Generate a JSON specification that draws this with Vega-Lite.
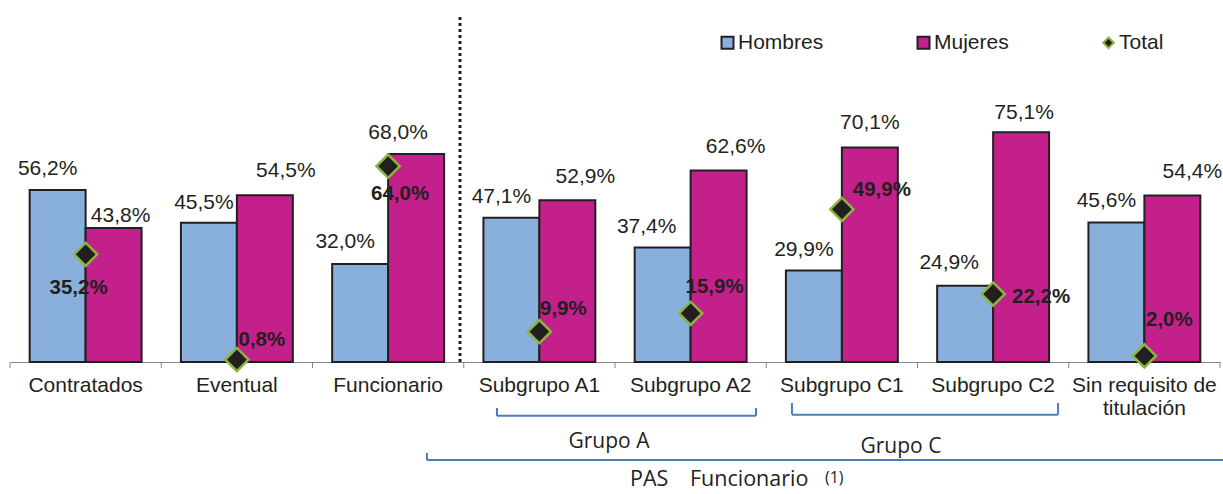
{
  "$schema": "https://vega.github.io/schema/vega-lite/v6.json",
  "width": 1210,
  "height": 306,
  "autosize": {"type": "none"},
  "padding": {"left": 10, "top": 56, "right": 3, "bottom": 132},
  "config": {"view": {"stroke": null}, "font": "Liberation Sans"},
  "data": {"values": [
    {"cat": "Contratados", "serie": "Hombres", "value": 56.2},
    {"cat": "Contratados", "serie": "Mujeres", "value": 43.8},
    {"cat": "Contratados", "serie": "Total", "value": 35.2},
    {"cat": "Eventual", "serie": "Hombres", "value": 45.5},
    {"cat": "Eventual", "serie": "Mujeres", "value": 54.5},
    {"cat": "Eventual", "serie": "Total", "value": 0.8},
    {"cat": "Funcionario", "serie": "Hombres", "value": 32.0},
    {"cat": "Funcionario", "serie": "Mujeres", "value": 68.0},
    {"cat": "Funcionario", "serie": "Total", "value": 64.0},
    {"cat": "Subgrupo A1", "serie": "Hombres", "value": 47.1},
    {"cat": "Subgrupo A1", "serie": "Mujeres", "value": 52.9},
    {"cat": "Subgrupo A1", "serie": "Total", "value": 9.9},
    {"cat": "Subgrupo A2", "serie": "Hombres", "value": 37.4},
    {"cat": "Subgrupo A2", "serie": "Mujeres", "value": 62.6},
    {"cat": "Subgrupo A2", "serie": "Total", "value": 15.9},
    {"cat": "Subgrupo C1", "serie": "Hombres", "value": 29.9},
    {"cat": "Subgrupo C1", "serie": "Mujeres", "value": 70.1},
    {"cat": "Subgrupo C1", "serie": "Total", "value": 49.9},
    {"cat": "Subgrupo C2", "serie": "Hombres", "value": 24.9},
    {"cat": "Subgrupo C2", "serie": "Mujeres", "value": 75.1},
    {"cat": "Subgrupo C2", "serie": "Total", "value": 22.2},
    {"cat": "Sin requisito de titulación", "serie": "Hombres", "value": 45.6},
    {"cat": "Sin requisito de titulación", "serie": "Mujeres", "value": 54.4},
    {"cat": "Sin requisito de titulación", "serie": "Total", "value": 2.0}
  ]},
  "transform": [{"calculate": "replace(format(datum.value, '.1f'), '.', ',') + '%'", "as": "label"}],
  "layer": [
    {
      "transform": [{"filter": "datum.serie !== 'Total'"}],
      "mark": {"type": "bar", "stroke": "#231F20", "strokeWidth": 2},
      "encoding": {
        "x": {"field": "cat", "type": "nominal",
          "scale": {"domain": ["Contratados", "Eventual", "Funcionario", "Subgrupo A1", "Subgrupo A2", "Subgrupo C1", "Subgrupo C2", "Sin requisito de titulación"], "paddingInner": 0.26, "paddingOuter": 0.13},
          "axis": {"title": null, "ticks": false, "grid": false, "domainColor": "#868686", "domainWidth": 1, "labelFontSize": 21, "labelColor": "#231F20", "labelPadding": 12, "labelAngle": 0, "labelLineHeight": 23, "labelLimit": 300, "labelFont": "Liberation Sans",
            "labelExpr": "datum.value === 'Sin requisito de titulación' ? ['Sin requisito de', 'titulación'] : datum.value"}},
        "xOffset": {"field": "serie", "type": "nominal", "scale": {"domain": ["Hombres", "Mujeres"], "paddingInner": 0, "paddingOuter": 0}},
        "y": {"field": "value", "type": "quantitative", "scale": {"domain": [0, 100], "nice": false}, "axis": null},
        "color": {"field": "serie", "type": "nominal",
          "scale": {"domain": ["Hombres", "Mujeres", "Total"], "range": ["#89AFDC", "#C4208C", "#231F20"]},
          "legend": {"orient": "none", "legendX": 707, "legendY": -24, "direction": "horizontal", "title": null,
            "labelFont": "Liberation Sans", "labelFontSize": 21, "labelColor": "#231F20", "labelOffset": 0,
            "symbolSize": 144, "columnPadding": 89, "symbolType": "square", "symbolStrokeWidth": 2, "symbolStrokeColor": "#231F20", "symbolOpacity": 1,
            "encode": {"symbols": {"update": {
              "shape": {"signal": "datum.value === 'Total' ? 'diamond' : 'square'"},
              "stroke": {"signal": "datum.value === 'Total' ? '#8DB43E' : '#231F20'"},
              "size": {"signal": "datum.value === 'Total' ? 110 : 144"}}}}}}
      }
    },
    {
      "transform": [{"filter": "datum.serie === 'Hombres'"}],
      "mark": {"type": "rule", "color": "#868686", "strokeWidth": 1},
      "encoding": {
        "x": {"field": "cat", "type": "nominal", "bandPosition": -0.1756},
        "y": {"datum": 0, "type": "quantitative", "axis": null},
        "y2": {"datum": -1.96}
      }
    },
    {
      "data": {"values": [{}]},
      "mark": {"type": "rule", "color": "#868686", "strokeWidth": 1},
      "encoding": {
        "x": {"datum": "Sin requisito de titulación", "type": "nominal", "bandPosition": 1.1756},
        "y": {"datum": 0, "type": "quantitative", "axis": null},
        "y2": {"datum": -1.96}
      }
    },
    {
      "transform": [{"filter": "datum.serie === 'Total'"}],
      "mark": {"type": "point", "shape": "diamond", "size": 540, "filled": true, "fill": "#231F20", "stroke": "#8DB43E", "strokeWidth": 2.5, "opacity": 1},
      "encoding": {
        "x": {"field": "cat", "type": "nominal"},
        "y": {"field": "value", "type": "quantitative", "axis": null}
      }
    },
    {
      "transform": [{"filter": "datum.serie === 'Hombres'"}],
      "mark": {"type": "text", "fontSize": 21, "color": "#231F20", "align": "center", "baseline": "middle",
        "dx": {"expr": "({'Contratados': -10, 'Eventual': -5, 'Funcionario': -15, 'Subgrupo A1': -10, 'Subgrupo A2': -16, 'Subgrupo C1': -10, 'Subgrupo C2': -16, 'Sin requisito de titulación': -10})[datum.cat]"},
        "dy": {"expr": "({'Contratados': -21, 'Eventual': -20, 'Funcionario': -22, 'Subgrupo A1': -21, 'Subgrupo A2': -21, 'Subgrupo C1': -21, 'Subgrupo C2': -23, 'Sin requisito de titulación': -21})[datum.cat]"}},
      "encoding": {
        "x": {"field": "cat", "type": "nominal"},
        "xOffset": {"field": "serie", "type": "nominal"},
        "y": {"field": "value", "type": "quantitative", "axis": null},
        "text": {"field": "label"}
      }
    },
    {
      "transform": [{"filter": "datum.serie === 'Mujeres'"}],
      "mark": {"type": "text", "fontSize": 21, "color": "#231F20", "align": "center", "baseline": "middle",
        "dx": {"expr": "({'Contratados': 7, 'Eventual': 21, 'Funcionario': -18, 'Subgrupo A1': 18, 'Subgrupo A2': 17, 'Subgrupo C1': 0, 'Subgrupo C2': 3, 'Sin requisito de titulación': 20})[datum.cat]"},
        "dy": {"expr": "({'Contratados': -12, 'Eventual': -24, 'Funcionario': -21, 'Subgrupo A1': -23, 'Subgrupo A2': -23, 'Subgrupo C1': -24, 'Subgrupo C2': -19, 'Sin requisito de titulación': -24})[datum.cat]"}},
      "encoding": {
        "x": {"field": "cat", "type": "nominal"},
        "xOffset": {"field": "serie", "type": "nominal"},
        "y": {"field": "value", "type": "quantitative", "axis": null},
        "text": {"field": "label"}
      }
    },
    {
      "transform": [{"filter": "datum.serie === 'Total'"}],
      "mark": {"type": "text", "fontSize": 20.5, "fontWeight": "bold", "color": "#231F20", "align": "center", "baseline": "middle",
        "dx": {"expr": "({'Contratados': -7, 'Eventual': 25, 'Funcionario': 12, 'Subgrupo A1': 24, 'Subgrupo A2': 24, 'Subgrupo C1': 40, 'Subgrupo C2': 48, 'Sin requisito de titulación': 25})[datum.cat]"},
        "dy": {"expr": "({'Contratados': 34, 'Eventual': -20, 'Funcionario': 28, 'Subgrupo A1': -23, 'Subgrupo A2': -26, 'Subgrupo C1': -19, 'Subgrupo C2': 3, 'Sin requisito de titulación': -36})[datum.cat]"}},
      "encoding": {
        "x": {"field": "cat", "type": "nominal"},
        "y": {"field": "value", "type": "quantitative", "axis": null},
        "text": {"field": "label"}
      }
    },
    {
      "data": {"values": [{}]},
      "mark": {"type": "rule", "color": "#231F20", "strokeWidth": 3, "strokeDash": [3, 3]},
      "encoding": {
        "x": {"datum": "Subgrupo A1", "type": "nominal", "bandPosition": -0.209},
        "y": {"datum": 0, "type": "quantitative", "axis": null},
        "y2": {"datum": 113.4}
      }
    },
    {
      "data": {"values": [{}]},
      "mark": {"type": "rule", "color": "#4A7EBB", "strokeWidth": 2},
      "encoding": {
        "x": {"datum": "Subgrupo A1", "type": "nominal", "bandPosition": 0.121},
        "y": {"datum": -15.0, "type": "quantitative", "axis": null},
        "y2": {"datum": -17.6}
      }
    },
    {
      "data": {"values": [{}]},
      "mark": {"type": "rule", "color": "#4A7EBB", "strokeWidth": 2},
      "encoding": {
        "x": {"datum": "Subgrupo A2", "type": "nominal", "bandPosition": 1.084},
        "y": {"datum": -15.0, "type": "quantitative", "axis": null},
        "y2": {"datum": -17.6}
      }
    },
    {
      "data": {"values": [{}]},
      "mark": {"type": "rule", "color": "#4A7EBB", "strokeWidth": 2},
      "encoding": {
        "x": {"datum": "Subgrupo A1", "type": "nominal", "bandPosition": 0.121},
        "x2": {"datum": "Subgrupo A2", "bandPosition": 1.084},
        "y": {"datum": -17.6, "type": "quantitative", "axis": null}
      }
    },
    {
      "data": {"values": [{}]},
      "mark": {"type": "rule", "color": "#4A7EBB", "strokeWidth": 2},
      "encoding": {
        "x": {"datum": "Subgrupo C1", "type": "nominal", "bandPosition": 0.054},
        "y": {"datum": -13.4, "type": "quantitative", "axis": null},
        "y2": {"datum": -17.2}
      }
    },
    {
      "data": {"values": [{}]},
      "mark": {"type": "rule", "color": "#4A7EBB", "strokeWidth": 2},
      "encoding": {
        "x": {"datum": "Subgrupo C2", "type": "nominal", "bandPosition": 1.08},
        "y": {"datum": -13.4, "type": "quantitative", "axis": null},
        "y2": {"datum": -17.2}
      }
    },
    {
      "data": {"values": [{}]},
      "mark": {"type": "rule", "color": "#4A7EBB", "strokeWidth": 2},
      "encoding": {
        "x": {"datum": "Subgrupo C1", "type": "nominal", "bandPosition": 0.054},
        "x2": {"datum": "Subgrupo C2", "bandPosition": 1.08},
        "y": {"datum": -17.2, "type": "quantitative", "axis": null}
      }
    },
    {
      "data": {"values": [{}]},
      "mark": {"type": "rule", "color": "#4A7EBB", "strokeWidth": 2},
      "encoding": {
        "x": {"datum": "Funcionario", "type": "nominal", "bandPosition": 0.847},
        "y": {"datum": -29.7, "type": "quantitative", "axis": null},
        "y2": {"datum": -32.0}
      }
    },
    {
      "data": {"values": [{}]},
      "mark": {"type": "rule", "color": "#4A7EBB", "strokeWidth": 2},
      "encoding": {
        "x": {"datum": "Funcionario", "type": "nominal", "bandPosition": 0.847},
        "x2": {"datum": "Sin requisito de titulación", "bandPosition": 1.202},
        "y": {"datum": -32.0, "type": "quantitative", "axis": null}
      }
    },
    {
      "data": {"values": [{}]},
      "mark": {"type": "text", "font": "Open Sans", "fontSize": 21, "color": "#231F20", "align": "center", "baseline": "middle", "text": "Grupo A"},
      "encoding": {
        "x": {"datum": "Subgrupo A1", "type": "nominal", "bandPosition": 1.122},
        "y": {"datum": -26.1, "type": "quantitative", "axis": null}
      }
    },
    {
      "data": {"values": [{}]},
      "mark": {"type": "text", "font": "Open Sans", "fontSize": 21, "color": "#231F20", "align": "center", "baseline": "middle", "text": "Grupo C"},
      "encoding": {
        "x": {"datum": "Subgrupo C1", "type": "nominal", "bandPosition": 1.028},
        "y": {"datum": -27.8, "type": "quantitative", "axis": null}
      }
    },
    {
      "data": {"values": [{}]},
      "mark": {"type": "text", "font": "Open Sans", "fontSize": 21.5, "color": "#231F20", "align": "left", "baseline": "middle", "text": "PAS"},
      "encoding": {
        "x": {"datum": "Subgrupo A2", "type": "nominal", "bandPosition": -0.042},
        "y": {"datum": -38.6, "type": "quantitative", "axis": null}
      }
    },
    {
      "data": {"values": [{}]},
      "mark": {"type": "text", "font": "Open Sans", "fontSize": 21.5, "color": "#231F20", "align": "left", "baseline": "middle", "text": "Funcionario"},
      "encoding": {
        "x": {"datum": "Subgrupo A2", "type": "nominal", "bandPosition": 0.494},
        "y": {"datum": -38.6, "type": "quantitative", "axis": null}
      }
    },
    {
      "data": {"values": [{}]},
      "mark": {"type": "text", "font": "Open Sans", "fontSize": 16, "color": "#231F20", "align": "left", "baseline": "middle", "text": "(1)"},
      "encoding": {
        "x": {"datum": "Subgrupo C1", "type": "nominal", "bandPosition": 0.349},
        "y": {"datum": -37.9, "type": "quantitative", "axis": null}
      }
    }
  ]
}
